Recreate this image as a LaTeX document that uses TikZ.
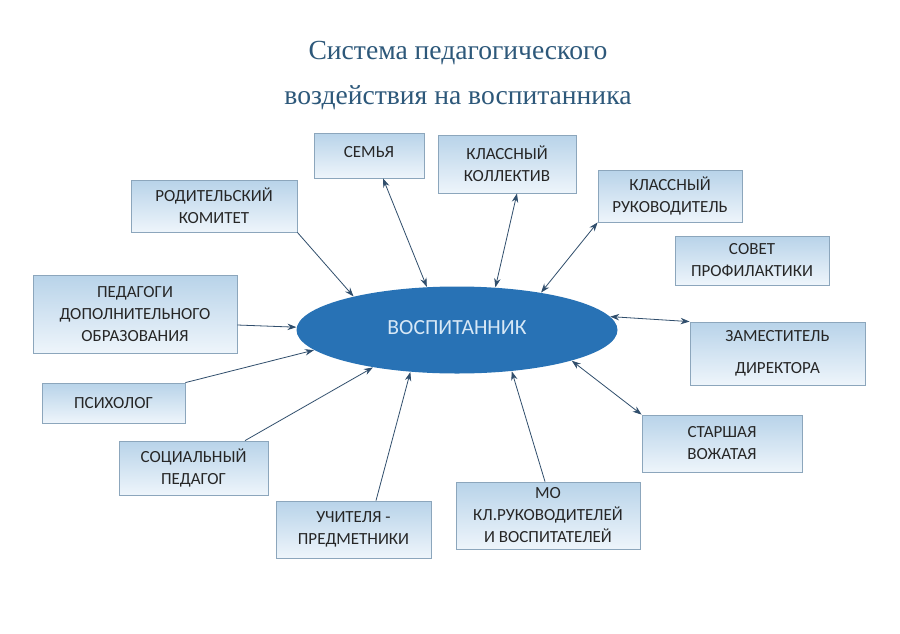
\documentclass[tikz,border=0pt]{standalone}
\usepackage{fontspec}
\setmainfont{Liberation Serif}
\newfontfamily\boxfont{Carlito}
\usetikzlibrary{shapes.geometric,arrows.meta}
\definecolor{titleblue}{RGB}{45,88,122}
\definecolor{boxtop}{RGB}{184,211,233}
\definecolor{boxbot}{RGB}{238,245,251}
\definecolor{boxline}{RGB}{140,166,188}
\definecolor{ellblue}{RGB}{40,114,181}
\definecolor{elltext}{RGB}{215,232,246}
\definecolor{arrowcol}{RGB}{48,78,108}
\tikzset{
	box/.style={draw=boxline, thin, top color=boxtop, bottom color=boxbot, align=center, text=black!85, inner sep=0pt, font=\boxfont\fontsize{8.5}{11}\selectfont},
	oneway/.style={arrowcol, thin, -{Stealth[length=4.5pt,width=3.2pt]}},
	twoway/.style={arrowcol, thin, {Stealth[length=4.5pt,width=3.2pt]}-{Stealth[length=4.5pt,width=3.2pt]}}
}
\begin{document}
\begin{tikzpicture}[x=0.5pt,y=-0.5pt]
	\useasboundingbox[fill=white] (0,0) rectangle (900,633);
	% TITLE
	\node (title) at (458,76) [align=center, text=titleblue, font=\fontsize{13.8}{22.5}\selectfont] {Система педагогического\\воздействия на воспитанника};
	% CENTRE
	\node (vosp) at (457,330) [ellipse, fill=ellblue, minimum width=160.5pt, minimum height=43.5pt, text=elltext, font=\boxfont\fontsize{10.8}{12}\selectfont] {\raisebox{2.5pt}{ВОСПИТАННИК}};
	% BOXES TOP
	\node (sem) at (369,155.5) [box, minimum width=55pt, minimum height=22.5pt] {\raisebox{3.25pt}{СЕМЬЯ}};
	\node (kk) at (507,164) [box, minimum width=69pt, minimum height=29pt] {КЛАССНЫЙ\\КОЛЛЕКТИВ};
	\node (kr) at (670,196) [box, minimum width=72pt, minimum height=26pt] {КЛАССНЫЙ\\РУКОВОДИТЕЛЬ};
	\node (rk) at (214,206) [box, minimum width=83pt, minimum height=26pt] {РОДИТЕЛЬСКИЙ\\КОМИТЕТ};
	\node (sp) at (752,260.5) [box, minimum width=77pt, minimum height=24.5pt] {СОВЕТ\\ПРОФИЛАКТИКИ};
	% BOXES LEFT
	\node (ped) at (135,314) [box, minimum width=102pt, minimum height=39pt] {ПЕДАГОГИ\\ДОПОЛНИТЕЛЬНОГО\\ОБРАЗОВАНИЯ};
	\node (psy) at (113.5,403) [box, minimum width=71.5pt, minimum height=20pt] {ПСИХОЛОГ};
	\node (soc) at (193.5,468) [box, minimum width=74.5pt, minimum height=27pt] {СОЦИАЛЬНЫЙ\\ПЕДАГОГ};
	% BOXES RIGHT
	\node (zam) at (777.5,353.5) [box, minimum width=87.5pt, minimum height=31.5pt] {ЗАМЕСТИТЕЛЬ\\[5pt]ДИРЕКТОРА};
	\node (sv) at (722,443.5) [box, minimum width=80pt, minimum height=28.5pt] {СТАРШАЯ\\ВОЖАТАЯ};
	% BOXES BOTTOM
	\node (uch) at (353.5,529.5) [box, minimum width=77.5pt, minimum height=28.5pt] {УЧИТЕЛЯ -\\ПРЕДМЕТНИКИ};
	\node (mo) at (548,515.5) [box, minimum width=92pt, minimum height=33.5pt] {МО\\КЛ.РУКОВОДИТЕЛЕЙ\\И ВОСПИТАТЕЛЕЙ};
	% ARROWS
	\draw[oneway] (rk.south east) -- (vosp.162);
	\draw[twoway] ([xshift=7pt]sem.south) -- (vosp.125);
	\draw[twoway] ([xshift=5pt]kk.south) -- (vosp.48);
	\draw[twoway] (kr.south west) -- (vosp.24);
	\draw[oneway] ([yshift=-5.5pt]ped.east) -- (vosp.179);
	\draw[oneway] (psy.north east) -- (vosp.188);
	\draw[oneway] ([xshift=25.75pt]soc.north) -- (vosp.204);
	\draw[oneway] ([xshift=11.25pt]uch.north) -- (vosp.222);
	\draw[oneway] ([xshift=-1.5pt]mo.north) -- (vosp.323);
	\draw[twoway] (sv.north west) -- (vosp.345);
	\draw[twoway] (zam.north west) -- (vosp.5);
\end{tikzpicture}
\end{document}
